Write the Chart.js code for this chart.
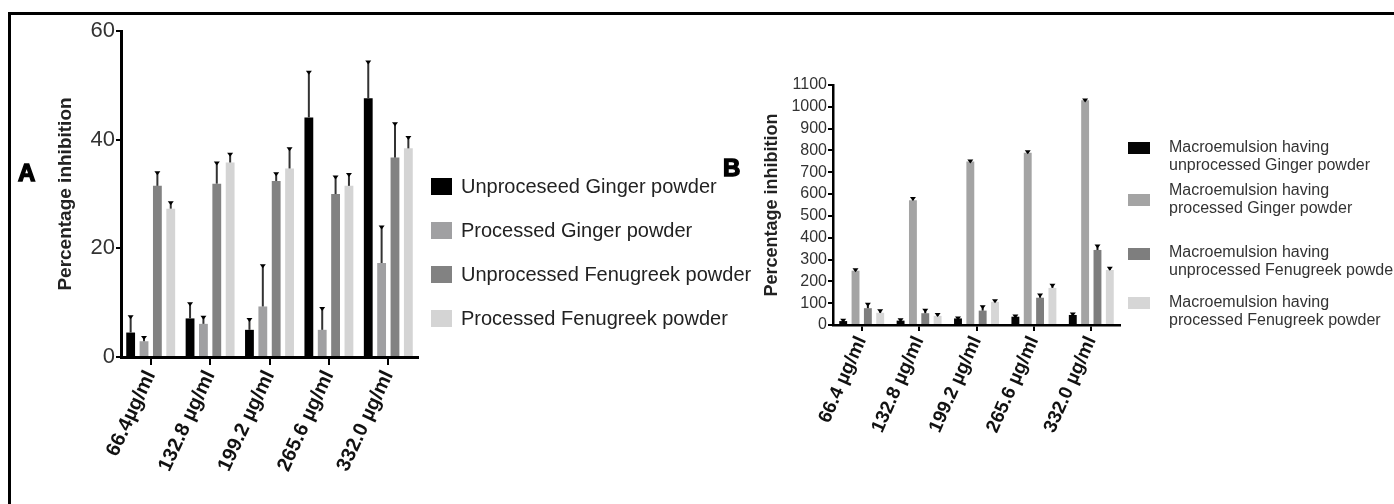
<!DOCTYPE html>
<html>
<head>
<meta charset="utf-8">
<script src="https://cdn.jsdelivr.net/npm/chart.js@4.4.1/dist/chart.umd.min.js"></script>
<style>
  html, body { margin: 0; padding: 0; background: #fff; }
  #page { position: relative; width: 1394px; height: 504px; overflow: hidden; background: #fff; font-family: "Liberation Sans", Arial, sans-serif; }
  #frame { position: absolute; left: 8px; top: 12px; width: 1400px; height: 500px; border-top: 3px solid #000; border-left: 3px solid #000; }
  canvas { position: absolute; }
  #chartA { left: 12px; top: 16px; }
  #chartB { left: 750px; top: 40px; }
  .panel-letter { position: absolute; font-family: "Liberation Sans", Arial, sans-serif; font-weight: 900; font-size: 24px; color: #000; -webkit-text-stroke: 1.4px #000; }
  #letterA { left: 18px; top: 159px; }
  #letterB { left: 723px; top: 154px; }
  .legend { position: absolute; }
  .legend .item { position: absolute; left: 0; white-space: nowrap; }
  .legend .box { position: absolute; left: 0; }
  #legendA { left: 431px; top: 0; font-size: 20px; color: #222; }
  #legendA .box { width: 21px; height: 17px; top: 1px; }
  #legendA .txt { position: absolute; left: 30px; top: -1px; line-height: 20px; }
  #legendB { left: 1128px; top: 0; font-size: 16px; color: #333; }
  #legendB .box { width: 22px; height: 12px; }
  #legendB .txt { position: absolute; left: 41px; top: 0; line-height: 18px; }
</style>
</head>
<body>
<div id="page">
  <canvas id="chartA" width="420" height="488"></canvas>
  <canvas id="chartB" width="380" height="460"></canvas>
  <div id="legendA" class="legend"></div>
  <div id="legendB" class="legend"></div>
  <div id="letterA" class="panel-letter">A</div>
  <div id="letterB" class="panel-letter">B</div>
  <div id="frame"></div>
</div>
<script>
// ---- panel A data ----
const categoriesA = ['66.4µg/ml', '132.8 µg/ml', '199.2 µg/ml', '265.6 µg/ml', '332.0 µg/ml'];
const seriesNamesA = ['Unproceseed Ginger powder', 'Processed Ginger powder', 'Unprocessed Fenugreek powder', 'Processed Fenugreek powder'];
const unprocGingerA = [4.5, 7.1, 5.0, 44.1, 47.6];
const unprocGingerErrA = [3.0, 2.8, 2.0, 8.4, 6.8];
const procGingerA = [2.9, 6.1, 9.3, 5.0, 17.3];
const procGingerErrA = [0.8, 1.3, 7.6, 4.0, 6.7];
const unprocFenuA = [31.5, 31.9, 32.4, 30.0, 36.7];
const unprocFenuErrA = [2.5, 3.9, 1.4, 3.2, 6.3];
const procFenuA = [27.3, 35.8, 34.7, 31.5, 38.4];
const procFenuErrA = [1.2, 1.6, 3.7, 2.2, 2.1];
const ticksA = [0, 20, 40, 60];

// ---- panel B data ----
const categoriesB = ['66.4 µg/ml', '132.8 µg/ml', '199.2 µg/ml', '265.6 µg/ml', '332.0 µg/ml'];
const seriesNamesB = [
  ['Macroemulsion having', 'unprocessed Ginger powder'],
  ['Macroemulsion having', 'processed Ginger powder'],
  ['Macroemulsion having', 'unprocessed Fenugreek powder'],
  ['Macroemulsion having', 'processed Fenugreek powder']
];
const unprocGingerB = [18, 20, 30, 38, 46];
const unprocGingerErrB = [6, 6, 4, 6, 7];
const procGingerB = [249, 572, 749, 790, 1030];
const procGingerErrB = [6, 10, 5, 6, 4];
const unprocFenuB = [77, 54, 66, 125, 344];
const unprocFenuErrB = [20, 16, 20, 15, 20];
const procFenuB = [56, 42, 106, 170, 252];
const procFenuErrB = [12, 8, 8, 14, 10];
const ticksB = [0, 100, 200, 300, 400, 500, 600, 700, 800, 900, 1000, 1100];

const colorsA = ['#000000', '#a0a0a2', '#828282', '#d4d4d4'];
const colorsB = ['#050505', '#a4a4a4', '#7e7e7e', '#d6d6d6'];

// upward-only error bars with a small cap, drawn from the y scale
const errorBars = {
  id: 'errorBars',
  afterDatasetsDraw(chart, args, opts) {
    const ctx = chart.ctx;
    const y = chart.scales.y;
    chart.data.datasets.forEach((ds, i) => {
      const meta = chart.getDatasetMeta(i);
      meta.data.forEach((bar, j) => {
        const top = y.getPixelForValue(ds.data[j] + ds.errors[j]);
        ctx.save();
        ctx.strokeStyle = opts.color;
        ctx.lineWidth = opts.width;
        ctx.beginPath();
        ctx.moveTo(bar.x, bar.y);
        ctx.lineTo(bar.x, top);
        ctx.stroke();
        ctx.fillStyle = '#000';
        ctx.beginPath();
        ctx.moveTo(bar.x - 3, top - 1);
        ctx.lineTo(bar.x + 3, top - 1);
        ctx.lineTo(bar.x, top + 3);
        ctx.closePath();
        ctx.fill();
        ctx.restore();
      });
    });
  }
};

function makeDatasets(values, errors, colors, names) {
  return values.map((v, i) => ({
    label: Array.isArray(names[i]) ? names[i].join(' ') : names[i],
    data: v,
    errors: errors[i],
    backgroundColor: colors[i],
    borderWidth: 0
  }));
}

function makeChart(id, cfg) {
  return new Chart(document.getElementById(id), {
    type: 'bar',
    data: { labels: cfg.labels, datasets: cfg.datasets },
    plugins: [errorBars],
    options: {
      responsive: false,
      animation: false,
      devicePixelRatio: 1,
      layout: { padding: cfg.padding },
      datasets: { bar: { categoryPercentage: cfg.cp, barPercentage: cfg.bp } },
      plugins: {
        legend: { display: false },
        tooltip: { enabled: false },
        errorBars: { color: cfg.errColor, width: 2 }
      },
      scales: {
        x: {
          grid: { display: true, offset: false, drawOnChartArea: false, drawTicks: true, tickLength: cfg.xTick, color: '#000', lineWidth: 2 },
          border: { display: true, color: '#000', width: cfg.axisWidth },
          ticks: {
            minRotation: cfg.rot, maxRotation: cfg.rot, autoSkip: false, padding: 2,
            color: '#111', font: { family: 'Liberation Sans, Arial', size: cfg.xFont, weight: 'bold' }
          },
          afterFit: s => { s.height = cfg.xHeight; }
        },
        y: {
          min: 0, max: cfg.max,
          afterBuildTicks: s => { s.ticks = cfg.ticks.map(v => ({ value: v })); },
          grid: { display: true, drawOnChartArea: false, drawTicks: true, tickLength: 5, color: '#000', lineWidth: 2 },
          border: { display: true, color: '#000', width: cfg.axisWidth },
          ticks: {
            autoSkip: false, padding: 1, color: '#333', font: { family: 'Liberation Sans, Arial', size: cfg.yFont },
            callback: v => String(v)
          },
          title: {
            display: true, text: 'Percentage inhibition', color: '#222',
            font: { family: 'Liberation Sans, Arial', size: cfg.titleFont, weight: 'bold' },
            padding: cfg.titlePad
          },
          afterFit: s => { s.width = cfg.yWidth; }
        }
      }
    }
  });
}

makeChart('chartA', {
  labels: categoriesA,
  datasets: makeDatasets([unprocGingerA, procGingerA, unprocFenuA, procFenuA],
    [unprocGingerErrA, procGingerErrA, unprocFenuErrA, procFenuErrA], colorsA, seriesNamesA),
  padding: { left: 0, top: 15, right: 14, bottom: 0 },
  cp: 0.9, bp: 0.66, errColor: '#333', axisWidth: 3, xTick: 8, rot: 65,
  xFont: 20, yFont: 22, titleFont: 19, titlePad: { top: 42, bottom: 4 },
  max: 60, ticks: ticksA, xHeight: 147, yWidth: 109
});

makeChart('chartB', {
  labels: categoriesB,
  datasets: makeDatasets([unprocGingerB, procGingerB, unprocFenuB, procFenuB],
    [unprocGingerErrB, procGingerErrB, unprocFenuErrB, procFenuErrB], colorsB, seriesNamesB),
  padding: { left: 0, top: 45, right: 10, bottom: 0 },
  cp: 0.86, bp: 0.64, errColor: '#111', axisWidth: 2.5, xTick: 6, rot: 66,
  xFont: 19, yFont: 16, titleFont: 18, titlePad: { top: 11, bottom: 4 },
  max: 1100, ticks: ticksB, xHeight: 175, yWidth: 83
});

// HTML legends built from the series names and colours
const legendTopsA = [178, 222, 266, 310];
const legendA = document.getElementById('legendA');
seriesNamesA.forEach((name, i) => {
  const item = document.createElement('div');
  item.className = 'item';
  item.style.top = (legendTopsA[i] - 1) + 'px';
  item.innerHTML = '<span class="box" style="background:' + colorsA[i] + '"></span><span class="txt">' + name + '</span>';
  legendA.appendChild(item);
});

const legendTopsB = [138, 181, 243, 293];
const boxOffsetsB = [4, 13, 5, 4];
const legendB = document.getElementById('legendB');
seriesNamesB.forEach((lines, i) => {
  const item = document.createElement('div');
  item.className = 'item';
  item.style.top = legendTopsB[i] + 'px';
  item.innerHTML = '<span class="box" style="top:' + boxOffsetsB[i] + 'px;background:' + colorsB[i] + '"></span><span class="txt">' + lines.join('<br>') + '</span>';
  legendB.appendChild(item);
});
</script>
</body>
</html>
